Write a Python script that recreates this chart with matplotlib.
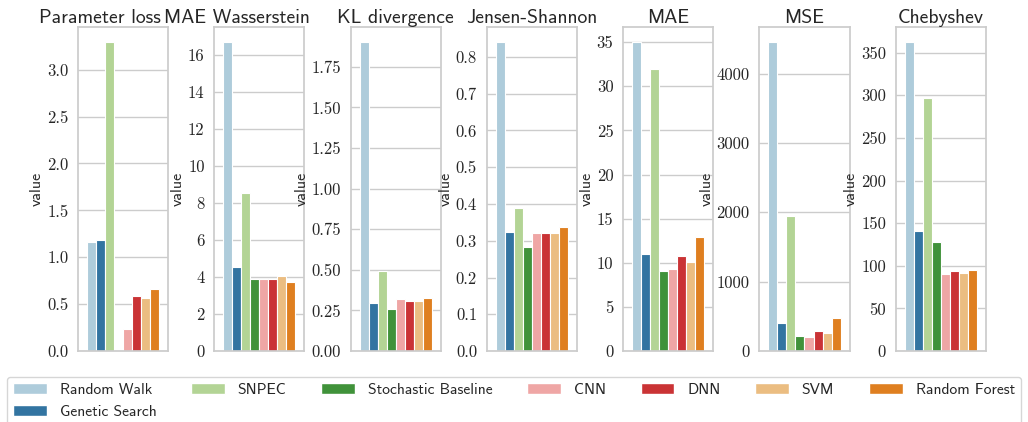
import numpy as np
import matplotlib
matplotlib.use('Agg')
import matplotlib.pyplot as plt
import seaborn as sns
from matplotlib.patches import Patch
from matplotlib.ticker import MultipleLocator

# metodos e metricas
metodos = ['Random Walk', 'Genetic Search', 'SNPEC', 'Stochastic Baseline',
           'CNN', 'DNN', 'SVM', 'Random Forest']
metricas = ['Parameter loss', 'MAE Wasserstein', 'KL divergence',
            'Jensen-Shannon', 'MAE', 'MSE', 'Chebyshev']

# valores por metrica (mesma ordem dos metodos), nan = sem resultado
param_loss = [1.16, 1.18, 3.29, np.nan, 0.24, 0.59, 0.57, 0.66]
mae_wasserstein = [16.67, 4.53, 8.54, 3.92, 3.92, 3.92, 4.08, 3.75]
kl_div = [1.90, 0.294, 0.496, 0.257, 0.319, 0.31, 0.31, 0.325]
jensen_shannon = [0.839, 0.324, 0.39, 0.282, 0.321, 0.321, 0.321, 0.337]
mae = [34.97, 10.98, 32.0, 9.09, 9.28, 10.83, 10.15, 12.92]
mse = [4448, 409, 1947, 217, 202, 294, 255, 482]
chebyshev = [362, 140.4, 296.5, 127.4, 90.6, 93.7, 92.1, 95.7]

valores = [param_loss, mae_wasserstein, kl_div, jensen_shannon, mae, mse, chebyshev]
passos = [0.5, 2, 0.25, 0.1, 5, 1000, 50]
# posicao horizontal de cada titulo (fracao do eixo)
titulo_x = [0.24, 0.25, 0.5, 0.5, 0.5, 0.5, 0.5]

sns.set_theme(style='whitegrid')
plt.rcParams['font.family'] = ['cmss10', 'DejaVu Sans']

cores = sns.color_palette('Paired', 8, desat=0.75)

fig, axes = plt.subplots(1, 7, figsize=(10.28, 4.22), dpi=100)
fig.subplots_adjust(left=0.0759, right=0.959, top=0.936, bottom=0.168, wspace=0.511)

largura = 0.1
pos = -0.35 + largura * np.arange(len(metodos))

for ax, titulo, vals, passo, tx in zip(axes, metricas, valores, passos, titulo_x):
    for i in range(len(metodos)):
        if np.isnan(vals[i]):
            continue
        ax.bar(pos[i], vals[i], width=largura, color=cores[i],
               edgecolor='white', linewidth=0.8)
    ax.set_xlim(-0.5, 0.5)
    ax.set_xticks([])
    ax.yaxis.set_major_locator(MultipleLocator(passo))
    ax.tick_params(axis='y', labelfontfamily='cmr10', labelsize=12, pad=1)
    ax.set_title(titulo, fontsize=14.2, pad=3, x=tx)
    ax.set_ylabel('value', fontsize=11.5, labelpad=2)

# legenda embaixo, cortada pela borda da figura
handles = [Patch(facecolor=cores[i], label=metodos[i]) for i in range(len(metodos))]
fig.legend(handles=handles, loc='upper center', bbox_to_anchor=(0.5, 0.126),
           ncol=7, fontsize=11.2, handlelength=2.15, handletextpad=0.83,
           columnspacing=2.25, frameon=True)

fig.savefig('out.png', dpi=100)
